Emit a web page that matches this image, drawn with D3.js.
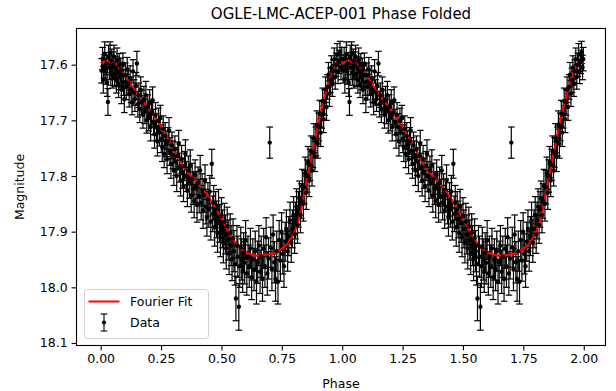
<!DOCTYPE html>
<html><head><meta charset="utf-8">
<script src="https://cdn.jsdelivr.net/npm/d3@7"></script>
<style>body{margin:0;background:#fff}svg{display:block}text{font-family:"DejaVu Sans",sans-serif;fill:#000}</style>
</head><body>
<svg id="c" width="616" height="391"></svg>
<script>
const title = "OGLE-LMC-ACEP-001 Phase Folded";
const xLabel = "Phase";
const yLabel = "Magnitude";
const xTicks = [0, 0.25, 0.5, 0.75, 1.0, 1.25, 1.5, 1.75, 2.0];
const yTicks = [17.6, 17.7, 17.8, 17.9, 18.0, 18.1];
const legendLabels = ["Fourier Fit", "Data"];

// Observations (one cycle; plotted at phase and phase+1)
const phases = [0.004,0.008,0.011,0.014,0.017,0.021,0.024,0.027,0.030,0.033,0.036,0.039,0.042,0.046,0.049,0.052,0.055,0.058,0.062,0.065,0.068,0.071,0.074,0.077,0.080,0.083,0.086,0.089,0.092,0.095,0.098,0.102,0.106,0.110,0.114,0.118,0.122,0.126,0.130,0.134,0.138,0.142,0.146,0.150,0.154,0.158,0.162,0.166,0.170,0.175,0.179,0.183,0.187,0.191,0.195,0.199,0.203,0.207,0.211,0.215,0.219,0.223,0.227,0.231,0.235,0.239,0.243,0.247,0.251,0.255,0.259,0.263,0.267,0.271,0.275,0.279,0.283,0.287,0.291,0.295,0.299,0.303,0.307,0.311,0.315,0.319,0.323,0.327,0.331,0.335,0.339,0.343,0.347,0.351,0.355,0.359,0.363,0.367,0.371,0.375,0.379,0.383,0.387,0.391,0.395,0.399,0.403,0.408,0.412,0.416,0.420,0.424,0.428,0.432,0.436,0.440,0.444,0.448,0.452,0.456,0.460,0.464,0.468,0.472,0.476,0.480,0.484,0.488,0.492,0.496,0.500,0.504,0.508,0.512,0.516,0.520,0.524,0.528,0.532,0.536,0.540,0.544,0.548,0.552,0.556,0.560,0.564,0.568,0.572,0.576,0.580,0.584,0.588,0.592,0.596,0.600,0.605,0.610,0.615,0.620,0.625,0.630,0.635,0.640,0.645,0.650,0.655,0.660,0.665,0.670,0.675,0.680,0.685,0.690,0.695,0.700,0.704,0.709,0.714,0.719,0.724,0.729,0.734,0.739,0.744,0.749,0.754,0.759,0.764,0.769,0.774,0.779,0.784,0.789,0.794,0.799,0.803,0.807,0.811,0.815,0.819,0.823,0.827,0.831,0.835,0.839,0.843,0.847,0.851,0.855,0.859,0.863,0.867,0.871,0.875,0.879,0.883,0.887,0.891,0.895,0.899,0.903,0.907,0.911,0.915,0.919,0.923,0.927,0.931,0.935,0.939,0.943,0.947,0.951,0.955,0.959,0.963,0.967,0.971,0.975,0.979,0.983,0.987,0.991,0.995,0.998];
const mags = [17.611,17.589,17.627,17.603,17.581,17.612,17.598,17.632,17.667,17.586,17.605,17.579,17.614,17.593,17.620,17.601,17.585,17.617,17.606,17.628,17.592,17.613,17.637,17.601,17.622,17.610,17.645,17.618,17.600,17.632,17.662,17.619,17.640,17.608,17.633,17.652,17.624,17.645,17.668,17.612,17.650,17.662,17.638,17.598,17.671,17.655,17.680,17.645,17.668,17.690,17.662,17.684,17.655,17.700,17.676,17.695,17.668,17.712,17.686,17.664,17.703,17.725,17.690,17.712,17.738,17.701,17.722,17.695,17.733,17.748,17.715,17.760,17.728,17.742,17.770,17.737,17.718,17.756,17.778,17.745,17.762,17.790,17.752,17.774,17.800,17.764,17.742,17.785,17.808,17.770,17.795,17.818,17.782,17.760,17.801,17.826,17.790,17.812,17.780,17.835,17.805,17.822,17.845,17.798,17.820,17.852,17.812,17.836,17.790,17.848,17.825,17.862,17.835,17.808,17.855,17.875,17.842,17.860,17.828,17.882,17.778,17.868,17.848,17.892,17.860,17.878,17.902,17.855,17.885,17.910,17.872,17.895,17.920,17.882,17.905,17.930,17.890,17.915,17.940,17.902,17.925,17.950,17.912,17.935,17.958,18.020,17.925,17.945,18.035,17.962,17.928,17.950,17.970,17.938,17.956,17.915,17.975,17.945,17.962,17.930,17.982,17.950,17.968,17.935,17.990,17.955,17.925,17.972,17.945,17.985,17.930,17.962,17.910,17.975,17.948,17.740,17.928,17.968,17.905,17.955,17.985,17.935,17.990,17.915,17.952,17.900,17.940,17.962,17.918,17.895,17.935,17.908,17.880,17.920,17.895,17.870,17.905,17.880,17.855,17.888,17.860,17.840,17.870,17.845,17.818,17.850,17.820,17.795,17.830,17.800,17.775,17.808,17.780,17.755,17.790,17.758,17.732,17.765,17.738,17.708,17.742,17.712,17.688,17.722,17.690,17.665,17.698,17.668,17.645,17.676,17.640,17.618,17.652,17.628,17.605,17.635,17.612,17.590,17.622,17.600,17.582,17.612,17.595,17.578,17.605,17.590];
const errs = [0.022,0.020,0.024,0.021,0.022,0.023,0.020,0.025,0.024,0.021,0.022,0.020,0.023,0.021,0.022,0.024,0.020,0.022,0.021,0.023,0.022,0.024,0.022,0.021,0.023,0.022,0.025,0.022,0.021,0.023,0.024,0.022,0.023,0.021,0.022,0.024,0.022,0.023,0.022,0.021,0.023,0.022,0.024,0.022,0.023,0.022,0.024,0.023,0.022,0.024,0.023,0.022,0.025,0.023,0.022,0.024,0.023,0.025,0.022,0.024,0.023,0.025,0.022,0.024,0.026,0.023,0.024,0.022,0.025,0.026,0.023,0.025,0.024,0.023,0.026,0.024,0.023,0.025,0.026,0.024,0.025,0.027,0.024,0.025,0.028,0.025,0.024,0.026,0.028,0.025,0.027,0.028,0.026,0.025,0.027,0.029,0.026,0.028,0.027,0.030,0.028,0.029,0.030,0.027,0.028,0.031,0.028,0.030,0.027,0.031,0.029,0.032,0.030,0.028,0.031,0.033,0.030,0.032,0.029,0.033,0.026,0.032,0.031,0.034,0.032,0.033,0.035,0.031,0.034,0.035,0.033,0.034,0.036,0.033,0.035,0.037,0.034,0.036,0.037,0.034,0.036,0.038,0.035,0.037,0.038,0.040,0.036,0.037,0.042,0.038,0.036,0.037,0.039,0.036,0.038,0.035,0.039,0.037,0.038,0.036,0.040,0.037,0.038,0.036,0.040,0.038,0.036,0.039,0.037,0.040,0.036,0.038,0.035,0.039,0.037,0.028,0.036,0.038,0.035,0.037,0.040,0.036,0.040,0.035,0.037,0.034,0.036,0.038,0.035,0.034,0.036,0.035,0.033,0.035,0.034,0.033,0.034,0.033,0.032,0.033,0.032,0.031,0.032,0.031,0.030,0.031,0.030,0.029,0.030,0.029,0.028,0.029,0.028,0.027,0.028,0.027,0.026,0.027,0.026,0.025,0.026,0.025,0.024,0.025,0.024,0.023,0.024,0.023,0.023,0.024,0.022,0.022,0.023,0.022,0.021,0.022,0.021,0.020,0.022,0.021,0.020,0.022,0.021,0.020,0.022,0.021];

// Fourier fit curve sampled over one cycle
const fitPhase = [0.00,0.02,0.04,0.07,0.10,0.15,0.20,0.25,0.30,0.35,0.40,0.45,0.50,0.55,0.60,0.65,0.70,0.75,0.78,0.81,0.83,0.85,0.87,0.89,0.91,0.93,0.95,0.97,0.99,1.00];
const fitMag = [17.597,17.594,17.595,17.603,17.619,17.652,17.680,17.711,17.750,17.787,17.812,17.840,17.876,17.915,17.937,17.943,17.941,17.931,17.918,17.892,17.860,17.815,17.772,17.728,17.688,17.652,17.622,17.602,17.595,17.597];

const L = 76.5, R = 605.5, T = 28.5, B = 345.5;
const svg = d3.select("#c");
const x = d3.scaleLinear().domain([-0.1, 2.09]).range([L, R]);
const y = d3.scaleLinear().domain([17.535, 18.1045]).range([T, B]);

const pts = [];
for (let k = 0; k < 2; k++) phases.forEach((p, i) => pts.push({p: p + k, m: mags[i], e: errs[i]}));
const fit = [];
for (let k = 0; k < 2; k++) fitPhase.forEach((p, i) => { if (k === 0 || i > 0) fit.push({p: p + k, m: fitMag[i]}); });

const plot = svg.append("g");
const cap = 3.3;
const eb = plot.append("g").attr("stroke", "#000").attr("stroke-width", 1.2);
pts.forEach(d => {
  const cx = x(d.p), y1 = y(d.m - d.e), y2 = y(d.m + d.e);
  eb.append("line").attr("x1", cx).attr("x2", cx).attr("y1", y1).attr("y2", y2);
  eb.append("line").attr("x1", cx - cap).attr("x2", cx + cap).attr("y1", y1).attr("y2", y1);
  eb.append("line").attr("x1", cx - cap).attr("x2", cx + cap).attr("y1", y2).attr("y2", y2);
});
plot.append("path").datum(fit)
  .attr("fill", "none").attr("stroke", "#ff0000").attr("stroke-width", 2.2)
  .attr("d", d3.line().x(d => x(d.p)).y(d => y(d.m)).curve(d3.curveMonotoneX));
plot.append("g").selectAll("circle").data(pts).join("circle")
  .attr("cx", d => x(d.p)).attr("cy", d => y(d.m)).attr("r", 2.2).attr("fill", "#000");

svg.append("rect").attr("x", L).attr("y", T).attr("width", R - L).attr("height", B - T)
  .attr("fill", "none").attr("stroke", "#000").attr("stroke-width", 1.1);

const xAxis = svg.append("g").attr("transform", `translate(0,${B})`)
  .call(d3.axisBottom(x).tickValues(xTicks).tickFormat(d3.format(".2f")).tickSize(4.9).tickPadding(4));
const yAxis = svg.append("g").attr("transform", `translate(${L},0)`)
  .call(d3.axisLeft(y).tickValues(yTicks).tickFormat(d3.format(".1f")).tickSize(4.9).tickPadding(4));
[xAxis, yAxis].forEach(a => {
  a.select(".domain").remove();
  a.selectAll(".tick line").attr("stroke", "#000").attr("stroke-width", 1.1);
  a.selectAll(".tick text").attr("font-size", 12.5).attr("font-family", "DejaVu Sans").attr("fill", "#000");
});

svg.append("text").attr("x", (L + R) / 2).attr("y", 19).attr("text-anchor", "middle")
  .attr("font-size", 15).text(title);
svg.append("text").attr("x", (L + R) / 2).attr("y", 388).attr("text-anchor", "middle")
  .attr("font-size", 12.5).text(xLabel);
svg.append("text").attr("transform", `translate(24,${(T + B) / 2}) rotate(-90)`).attr("text-anchor", "middle")
  .attr("font-size", 12.5).text(yLabel);

const lg = svg.append("g");
lg.append("rect").attr("x", 84.5).attr("y", 289.5).attr("width", 124).attr("height", 49).attr("rx", 3)
  .attr("fill", "#fff").attr("fill-opacity", 0.8).attr("stroke", "#d0d0d0").attr("stroke-width", 1);
lg.append("line").attr("x1", 88.5).attr("x2", 119.5).attr("y1", 301.5).attr("y2", 301.5)
  .attr("stroke", "#ff0000").attr("stroke-width", 2);
lg.append("text").attr("x", 130).attr("y", 306).attr("font-size", 12.5).text(legendLabels[0]);
const lx = 104, ly = 322.5;
const lgE = lg.append("g").attr("stroke", "#000").attr("stroke-width", 1.1);
lgE.append("line").attr("x1", lx).attr("x2", lx).attr("y1", ly - 8.5).attr("y2", ly + 8.5);
lgE.append("line").attr("x1", lx - cap).attr("x2", lx + cap).attr("y1", ly - 8.5).attr("y2", ly - 8.5);
lgE.append("line").attr("x1", lx - cap).attr("x2", lx + cap).attr("y1", ly + 8.5).attr("y2", ly + 8.5);
lg.append("circle").attr("cx", lx).attr("cy", ly).attr("r", 2.1).attr("fill", "#000");
lg.append("text").attr("x", 130).attr("y", 327).attr("font-size", 12.5).text(legendLabels[1]);
</script>
</body></html>
